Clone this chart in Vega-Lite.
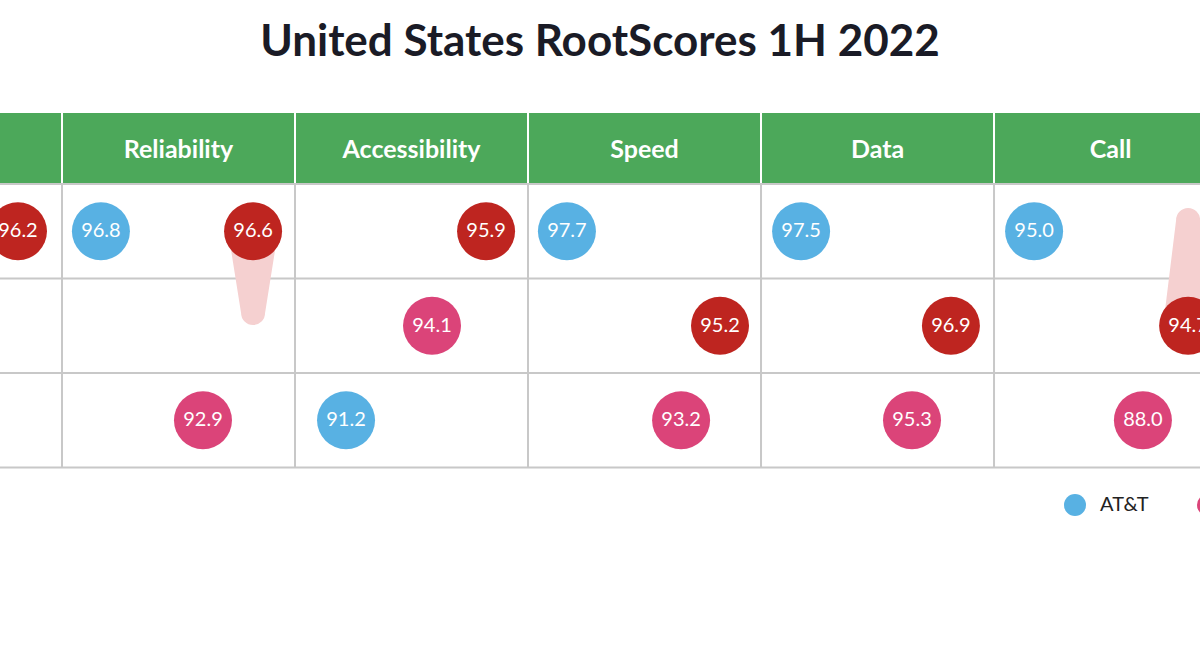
{
  "$schema": "https://vega.github.io/schema/vega-lite/v6.json",
  "width": 1200,
  "height": 564,
  "autosize": {"type": "none"},
  "padding": {"left": 0, "right": 0, "top": 100, "bottom": 0},
  "background": "white",
  "title": {
    "text": "United States RootScores 1H 2022",
    "anchor": "middle",
    "font": "Lato",
    "fontSize": 44,
    "fontWeight": "bold",
    "color": "#1a1b26",
    "offset": 35
  },
  "config": {
    "view": {"stroke": null},
    "legend": {
      "orient": "none",
      "legendX": 1064,
      "legendY": 394,
      "direction": "horizontal",
      "symbolSize": 484,
      "symbolType": "circle",
      "symbolStrokeWidth": 0,
      "symbolOpacity": 1,
      "labelFontSize": 20,
      "labelFont": "Lato",
      "labelColor": "#222222",
      "labelOffset": 14,
      "columnPadding": 48,
      "padding": 0
    }
  },
  "datasets": {
    "header": [
      {"name": "", "start": 0, "end": 1, "mid": 0.5},
      {"name": "Reliability", "start": 1, "end": 2, "mid": 1.5},
      {"name": "Accessibility", "start": 2, "end": 3, "mid": 2.5},
      {"name": "Speed", "start": 3, "end": 4, "mid": 3.5},
      {"name": "Data", "start": 4, "end": 5, "mid": 4.5},
      {"name": "Call", "start": 5, "end": 6, "mid": 5.5}
    ],
    "hlines": [{"y": 0}, {"y": 1}, {"y": 2}, {"y": 3}],
    "vlines": [{"x": 1}, {"x": 2}, {"x": 3}, {"x": 4}, {"x": 5}, {"x": 6}],
    "tails": [
      {"metric": "Reliability", "i": 0, "x": 1.82, "row": 0.5, "w": 50},
      {"metric": "Reliability", "i": 1, "x": 1.82, "row": 1.365, "w": 24},
      {"metric": "Call", "i": 0, "x": 5.833, "row": 1.5, "w": 50},
      {"metric": "Call", "i": 1, "x": 5.833, "row": 0.381, "w": 24}
    ],
    "scores": [
      {"carrier": "Verizon", "metric": "Overall", "score": "96.2", "x": 0.811, "row": 0.5},
      {"carrier": "AT&T", "metric": "Reliability", "score": "96.8", "x": 1.167, "row": 0.5},
      {"carrier": "Verizon", "metric": "Reliability", "score": "96.6", "x": 1.82, "row": 0.5},
      {"carrier": "T-Mobile", "metric": "Reliability", "score": "92.9", "x": 1.605, "row": 2.5},
      {"carrier": "Verizon", "metric": "Accessibility", "score": "95.9", "x": 2.82, "row": 0.5},
      {"carrier": "T-Mobile", "metric": "Accessibility", "score": "94.1", "x": 2.588, "row": 1.5},
      {"carrier": "AT&T", "metric": "Accessibility", "score": "91.2", "x": 2.219, "row": 2.5},
      {"carrier": "AT&T", "metric": "Speed", "score": "97.7", "x": 3.167, "row": 0.5},
      {"carrier": "Verizon", "metric": "Speed", "score": "95.2", "x": 3.824, "row": 1.5},
      {"carrier": "T-Mobile", "metric": "Speed", "score": "93.2", "x": 3.657, "row": 2.5},
      {"carrier": "AT&T", "metric": "Data", "score": "97.5", "x": 4.172, "row": 0.5},
      {"carrier": "Verizon", "metric": "Data", "score": "96.9", "x": 4.815, "row": 1.5},
      {"carrier": "T-Mobile", "metric": "Data", "score": "95.3", "x": 4.648, "row": 2.5},
      {"carrier": "AT&T", "metric": "Call", "score": "95.0", "x": 5.172, "row": 0.5},
      {"carrier": "Verizon", "metric": "Call", "score": "94.7", "x": 5.833, "row": 1.5},
      {"carrier": "T-Mobile", "metric": "Call", "score": "88.0", "x": 5.639, "row": 2.5}
    ]
  },
  "layer": [
    {
      "data": {"name": "header"},
      "mark": {"type": "rect", "color": "#4ca85a", "stroke": "white", "strokeWidth": 2, "clip": true},
      "encoding": {
        "x": {"field": "start", "type": "quantitative", "scale": {"domain": [0.7339, 5.884], "zero": false, "nice": false}, "axis": null},
        "x2": {"field": "end"},
        "y": {"datum": -0.762, "type": "quantitative", "scale": {"domain": [-0.889, 5.079], "zero": false, "nice": false, "reverse": true}, "axis": null},
        "y2": {"datum": 0}
      }
    },
    {
      "data": {"name": "header"},
      "mark": {"type": "text", "color": "white", "font": "Lato", "fontSize": 25, "fontWeight": "bold", "baseline": "middle", "align": "center", "clip": true},
      "encoding": {
        "x": {"field": "mid", "type": "quantitative", "axis": null},
        "y": {"datum": -0.36, "type": "quantitative", "axis": null},
        "text": {"field": "name"}
      }
    },
    {
      "data": {"name": "hlines"},
      "mark": {"type": "rule", "color": "#c8c8c8", "strokeWidth": 2},
      "encoding": {
        "y": {"field": "y", "type": "quantitative", "axis": null}
      }
    },
    {
      "data": {"name": "vlines"},
      "mark": {"type": "rule", "color": "#c8c8c8", "strokeWidth": 2, "clip": true},
      "encoding": {
        "x": {"field": "x", "type": "quantitative", "axis": null},
        "y": {"datum": 0, "type": "quantitative", "axis": null},
        "y2": {"datum": 3}
      }
    },
    {
      "data": {"name": "tails"},
      "mark": {"type": "trail", "color": "#f5d0d0", "clip": true},
      "encoding": {
        "x": {"field": "x", "type": "quantitative", "axis": null},
        "y": {"field": "row", "type": "quantitative", "axis": null},
        "size": {"field": "w", "type": "quantitative", "scale": null, "legend": null},
        "detail": {"field": "metric"},
        "order": {"field": "i"}
      }
    },
    {
      "data": {"name": "scores"},
      "mark": {"type": "circle", "size": 3364, "opacity": 1, "clip": true},
      "encoding": {
        "x": {"field": "x", "type": "quantitative", "axis": null},
        "y": {"field": "row", "type": "quantitative", "axis": null},
        "color": {
          "field": "carrier",
          "type": "nominal",
          "scale": {"domain": ["AT&T", "T-Mobile", "Verizon"], "range": ["#58b1e3", "#db4479", "#be2520"]},
          "legend": {"title": null}
        }
      }
    },
    {
      "data": {"name": "scores"},
      "mark": {"type": "text", "color": "white", "font": "Lato", "fontSize": 20, "baseline": "middle", "align": "center", "clip": true},
      "encoding": {
        "x": {"field": "x", "type": "quantitative", "axis": null},
        "y": {"field": "row", "type": "quantitative", "axis": null},
        "text": {"field": "score"}
      }
    }
  ]
}
